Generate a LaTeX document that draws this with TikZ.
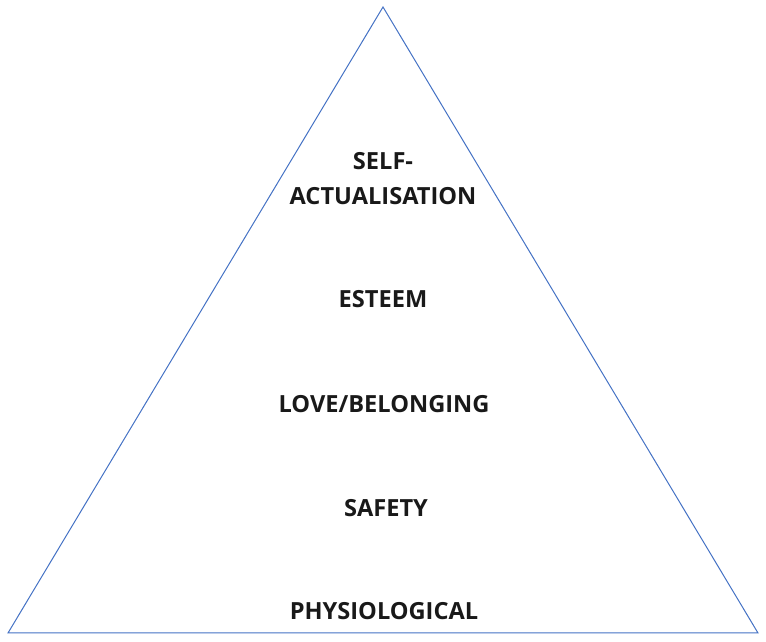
\documentclass[tikz,border=0pt]{standalone}
\usepackage{fontspec}
\setmainfont{Open Sans}
\definecolor{edge}{HTML}{4472C4}
\begin{document}
\begin{tikzpicture}[x=1pt,y=1pt,
  lbl/.style={font=\fontsize{23.6}{28}\selectfont\bfseries, inner sep=0pt, anchor=base, text=black!90}]
\useasboundingbox (0,0) rectangle (766,642);
\coordinate (apex) at (383,635);
\coordinate (bl) at (8,9);
\coordinate (br) at (758,9);
\draw[edge, line width=1pt, line join=miter] (apex) -- (bl) -- (br) -- cycle;
\node[lbl] (self) at (383,472) {SELF-};
\node[lbl] (act) at (383,437) {ACTUALISATION};
\node[lbl] (est) at (383,334) {ESTEEM};
\node[lbl] (love) at (384,229) {LOVE/BELONGING};
\node[lbl] (safe) at (386,125) {SAFETY};
\node[lbl] (phys) at (384,22) {PHYSIOLOGICAL};
\end{tikzpicture}
\end{document}
